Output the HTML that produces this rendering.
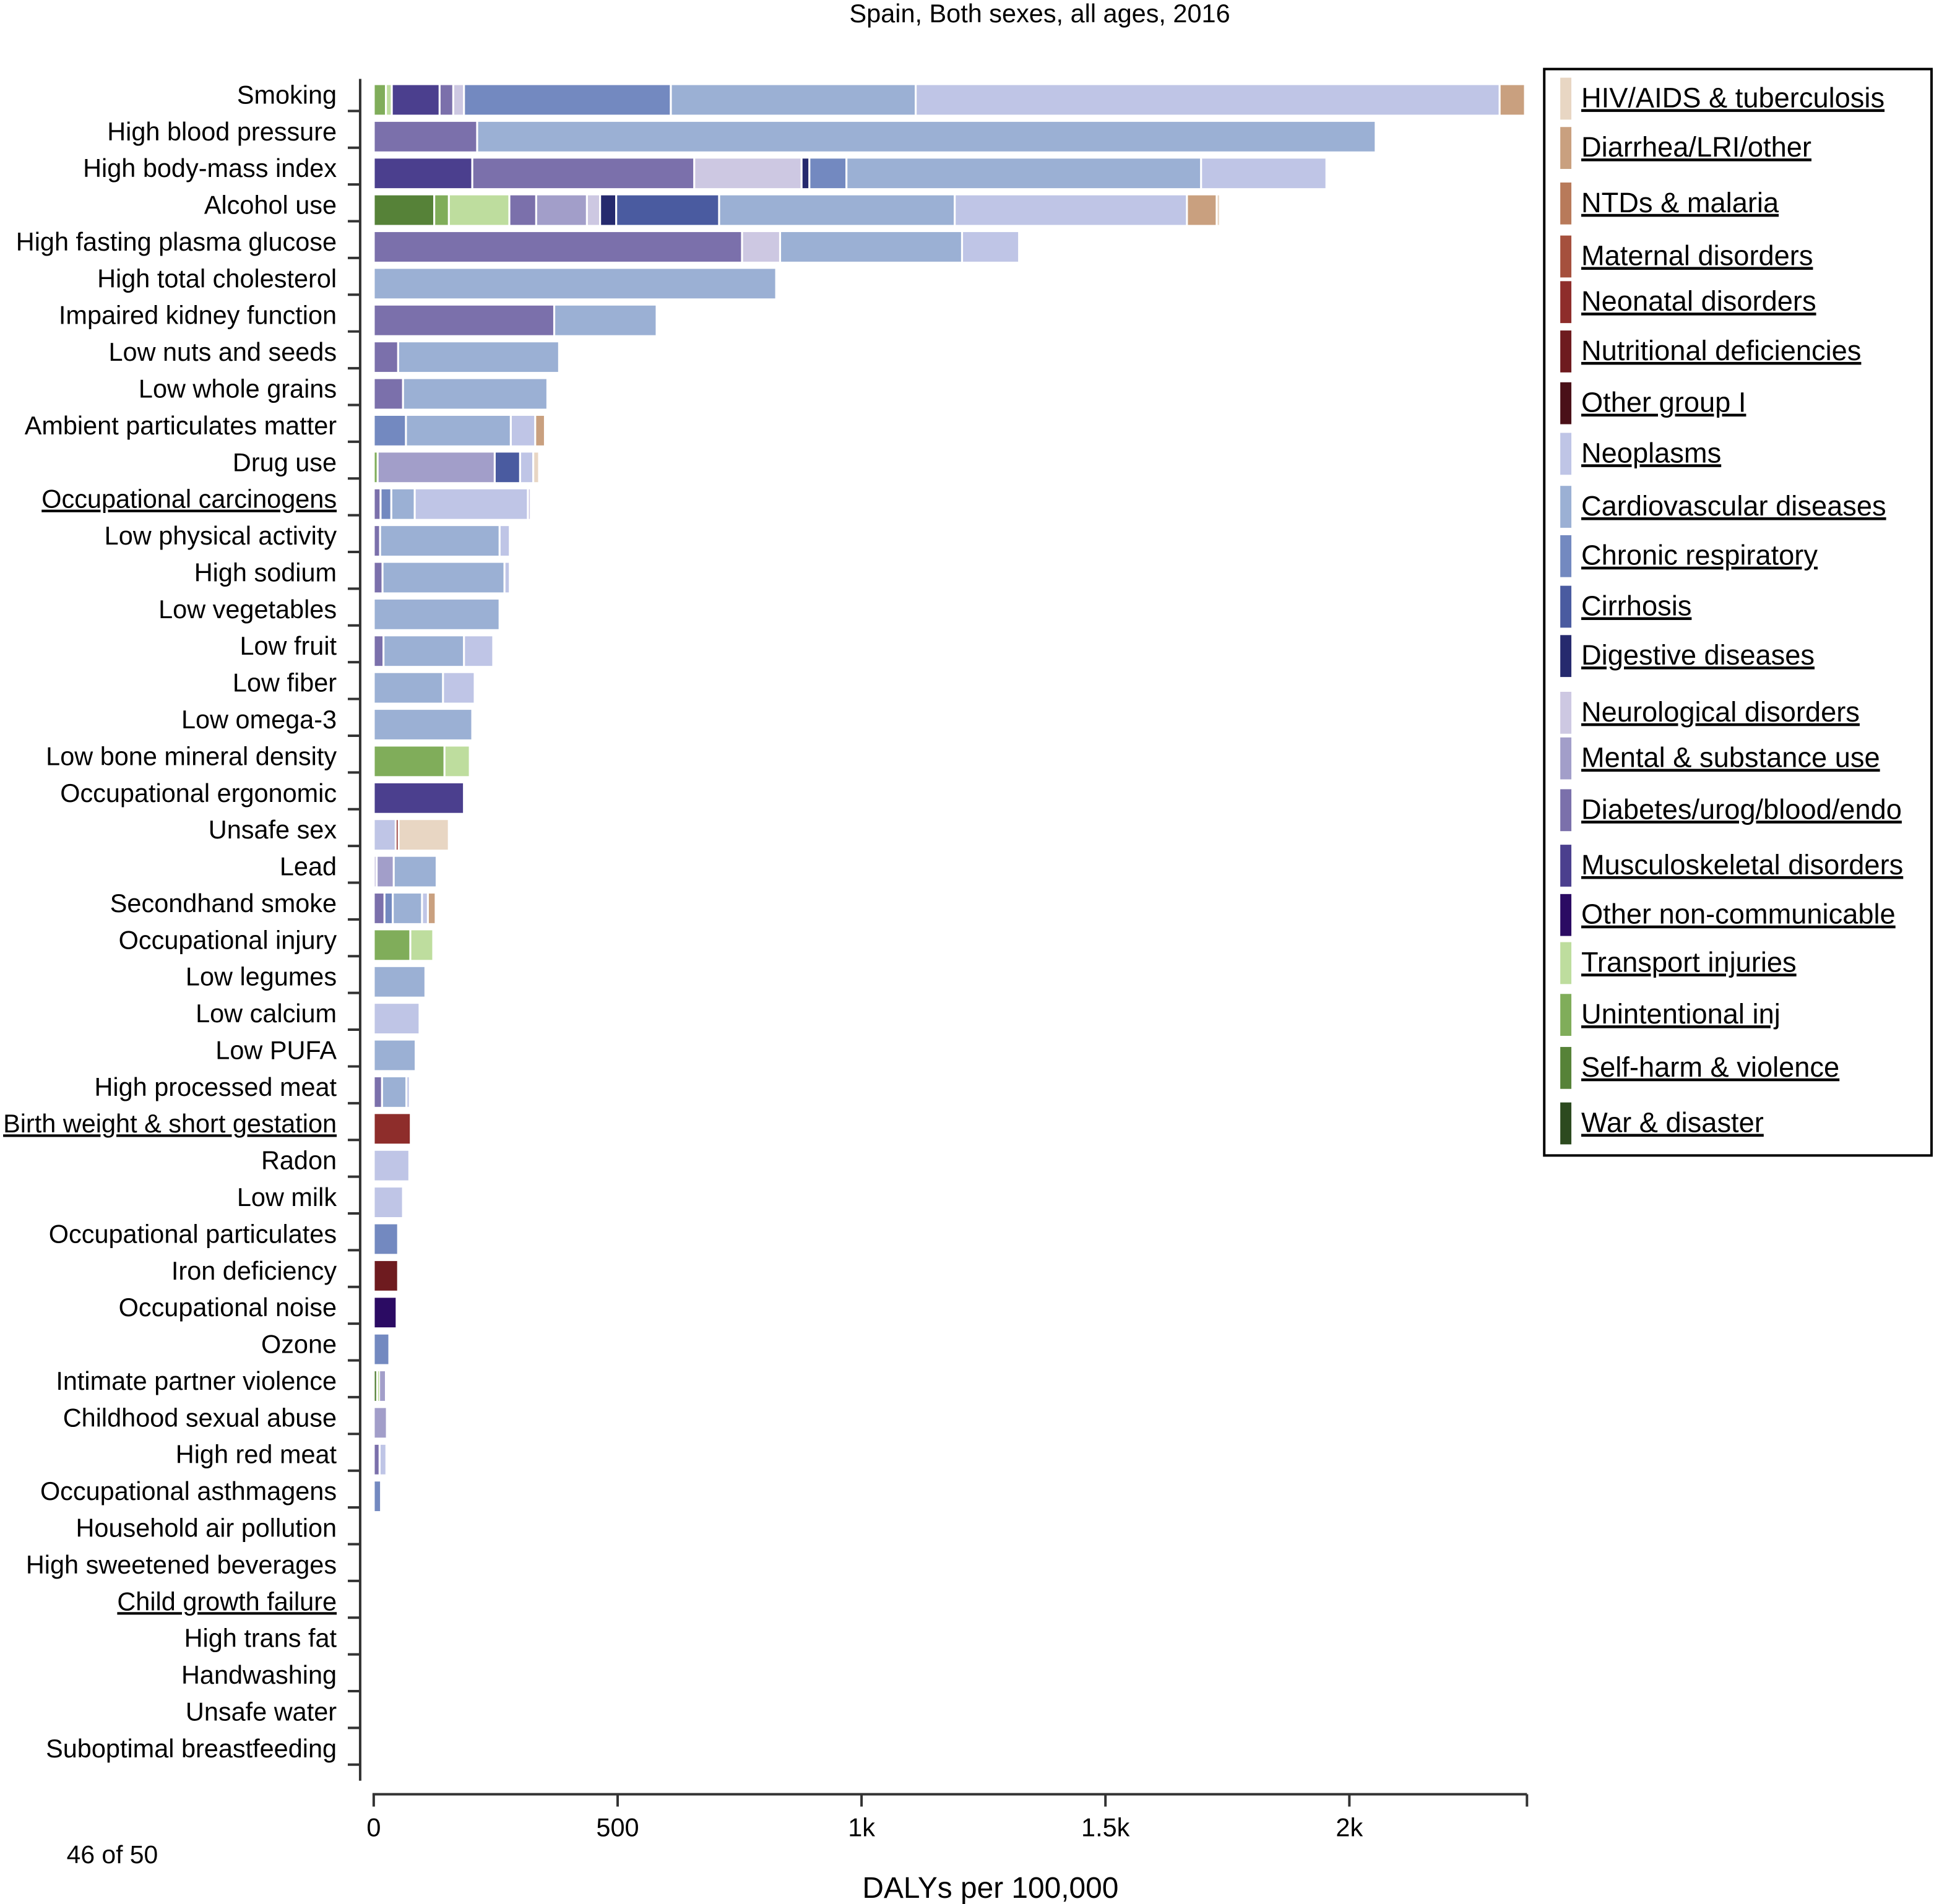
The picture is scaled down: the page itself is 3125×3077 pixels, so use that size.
<!DOCTYPE html>
<html><head><meta charset="utf-8"><style>
html,body{margin:0;padding:0;background:#fff;}
svg{display:block;font-family:"Liberation Sans",Arial,sans-serif;}
</style></head><body>
<svg id="chart" width="3125" height="3077" viewBox="0 0 1568 1544" preserveAspectRatio="none" xmlns="http://www.w3.org/2000/svg">
<text x="843" y="18" font-size="20.8" text-anchor="middle">Spain, Both sexes, all ages, 2016</text>
<text x="54" y="1511" font-size="20.5">46 of 50</text>
<text x="803" y="1539" font-size="24" text-anchor="middle">DALYs per 100,000</text>
<g id="bars"></g><g id="axes"></g><g id="legend"></g>
</svg>
<script>
const NS="http://www.w3.org/2000/svg";
const causes=["HIV/AIDS & tuberculosis","Diarrhea/LRI/other","NTDs & malaria","Maternal disorders","Neonatal disorders","Nutritional deficiencies","Other group I","Neoplasms","Cardiovascular diseases","Chronic respiratory","Cirrhosis","Digestive diseases","Neurological disorders","Mental & substance use","Diabetes/urog/blood/endo","Musculoskeletal disorders","Other non-communicable","Transport injuries","Unintentional inj","Self-harm & violence","War & disaster"];
const colors=["#e8d6c3","#c9a07f","#b87a5a","#a5503d","#8e2d2b","#6e1b1f","#4a1018","#bfc5e6","#9bb0d4","#7389c0","#4a5ba0","#262a6e","#cdc8e2","#a29ec9","#7b70ab","#4b3f8e","#2b0b63","#bedd9e","#80ad5a","#568238","#2c4a1f"];
const legendY=[80,120,165,208,245,285,327,368,411,451,492,532,578,615,657,702,742,781,823,866,911];
const risks=["Smoking","High blood pressure","High body-mass index","Alcohol use","High fasting plasma glucose","High total cholesterol","Impaired kidney function","Low nuts and seeds","Low whole grains","Ambient particulates matter","Drug use","Occupational carcinogens","Low physical activity","High sodium","Low vegetables","Low fruit","Low fiber","Low omega-3","Low bone mineral density","Occupational ergonomic","Unsafe sex","Lead","Secondhand smoke","Occupational injury","Low legumes","Low calcium","Low PUFA","High processed meat","Birth weight & short gestation","Radon","Low milk","Occupational particulates","Iron deficiency","Occupational noise","Ozone","Intimate partner violence","Childhood sexual abuse","High red meat","Occupational asthmagens","Household air pollution","High sweetened beverages","Child growth failure","High trans fat","Handwashing","Unsafe water","Suboptimal breastfeeding"];
const underlined=["Occupational carcinogens","Birth weight & short gestation","Child growth failure"];
const segCause=[
[18,17,15,14,12,9,8,7,1],[14,8],[15,14,12,11,9,8,7],[19,18,17,14,13,12,11,10,8,7,1,0],[14,12,8,7],[8],[14,8],[14,8],[14,8],[9,8,7,1],[18,13,10,7,0],[14,9,8,7,12],[14,8,7],[14,8,7],[8],[14,8,7],[8,7],[8],[18,17],[15],[7,4,0],[12,13,8],[14,9,8,7,1],[18,17],[8],[7],[8],[14,8,7],[4],[7],[7],[9],[5],[16],[9],[19,17,13],[13],[14,7],[9],[],[],[],[],[],[],[]];
const segVal=[
[25,12,98,28,22,424,502,1197,52],[212,1842],[202,455,220,16,76,727,257],[124,30,124,55,104,27,33,211,483,476,61,7],[755,78,373,117],[825],[370,210],[50,330],[60,296],[66,215,50,20],[8,240,52,27,12],[14,22,48,232,6],[13,245,21],[18,250,11],[258],[20,165,60],[142,65],[202],[145,52],[185],[45,6,103],[6,35,88],[22,17,60,12,16],[75,47],[106],[94],[86],[17,50,7],[76],[73],[60],[50],[50],[47],[32],[7,4,14],[27],[12,14],[15],[],[],[],[],[],[],[]];
const xTicks=[0,500,1000,1500,2000];
const xTickLabels=["0","500","1k","1.5k","2k"];
const X0=303, K=0.3955, Y0=81, DY=29.8;
function xs(v){return X0+v*K;}
function ys(i){return Y0+i*DY;}
const bars=document.getElementById('bars'),axes=document.getElementById('axes'),leg=document.getElementById('legend');
function mk(tag,attrs,parent){const e=document.createElementNS(NS,tag);for(const k in attrs)e.setAttribute(k,attrs[k]);parent.appendChild(e);return e;}
risks.forEach((r,i)=>{
  let cum=0;
  segVal[i].forEach((v,j)=>{
    const x1=xs(cum),x2=xs(cum+v);cum+=v;
    const rc=mk('rect',{x:x1+0.8,y:ys(i)-12,width:Math.max(x2-x1-1.6,0.8),height:24,fill:colors[segCause[i][j]]},bars);
    
    
  });
  const t=mk('text',{x:273,y:ys(i)+3,'font-size':20.8,'text-anchor':'end'},axes);
  t.textContent=r;
  
  
  if(underlined.includes(r))t.setAttribute('text-decoration','underline');
  const tk=mk('line',{x1:282,x2:292,y1:ys(i)+9,y2:ys(i)+9,stroke:'#333','stroke-width':2},axes);
  
  
});
const ya=mk('line',{x1:292,x2:292,y1:64,y2:1444,stroke:'#333','stroke-width':2},axes);


const xa=mk('line',{x1:302,x2:1238,y1:1455,y2:1455,stroke:'#333','stroke-width':2},axes);


xTicks.forEach((v,i)=>{
  const l=mk('line',{x1:xs(v),x2:xs(v),y1:1455,y2:1465,stroke:'#333','stroke-width':2},axes);
  
  
  const t=mk('text',{x:xs(v),y:1489,'font-size':20.8,'text-anchor':'middle'},axes);
  t.textContent=xTickLabels[i];
  
  
});
const endT=mk('line',{x1:1238,x2:1238,y1:1455,y2:1465,stroke:'#333','stroke-width':2},axes);


const box=mk('rect',{x:1252,y:56,width:314,height:881,fill:'none',stroke:'#000','stroke-width':2},leg);


causes.forEach((c,i)=>{
  const s=mk('rect',{x:1265,y:legendY[i]-17,width:9,height:34,fill:colors[i]},leg);
  
  
  const t=mk('text',{x:1282,y:legendY[i]+7,'font-size':22.7,'text-decoration':'underline'},leg);
  t.textContent=c;
  
  
});
</script>
</body></html>
